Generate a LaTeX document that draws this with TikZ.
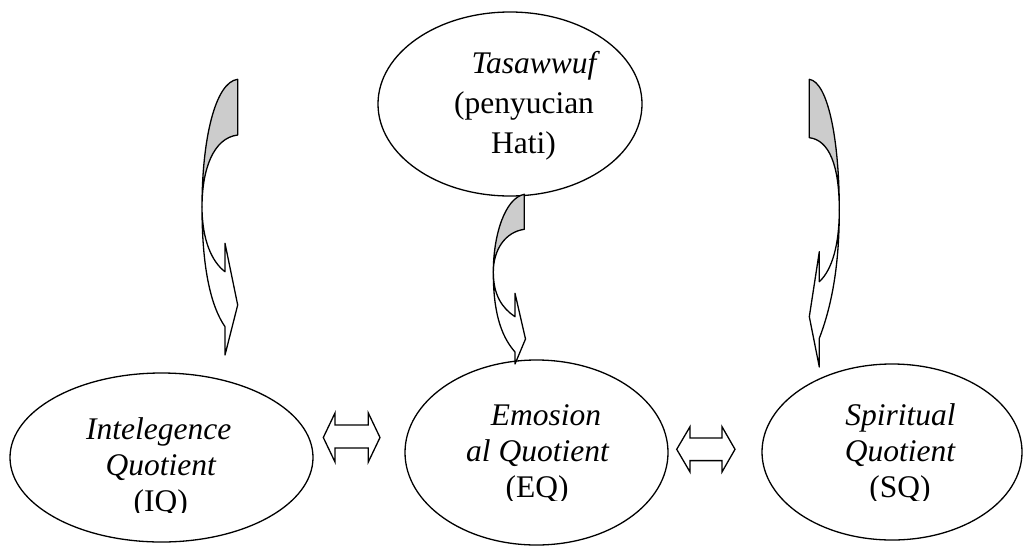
\documentclass[tikz,border=0pt]{standalone}
\usepackage{fontspec}
\setmainfont{Liberation Serif}
\usetikzlibrary{shapes.geometric}
\definecolor{bandgray}{RGB}{204,204,204}
\begin{document}
\begin{tikzpicture}[x=1pt,y=-1pt,
  oval/.style={draw,line width=1.3pt,ellipse,inner sep=0pt,outer sep=0pt},
  lbl/.style={anchor=base,inner sep=0pt,font=\fontsize{31.5}{36}\selectfont},
  ilbl/.style={lbl,font=\fontsize{31.5}{36}\selectfont\itshape},
  blockarrow/.style={draw,line width=1.3pt,fill=white,line join=miter},
  backband/.style={draw,line width=1.3pt,fill=bandgray,line join=round},
  frontband/.style={draw,line width=1.3pt,fill=white,line join=round}]
\useasboundingbox (0,0) rectangle (1035,549);

% the four ovals
\node[oval,minimum width=264pt,minimum height=184pt] (tas) at (510,104) {};
\node[oval,minimum width=303pt,minimum height=169pt] (iq) at (161.5,457.5) {};
\node[oval,minimum width=263pt,minimum height=185pt] (eq) at (536.5,452.5) {};
\node[oval,minimum width=260pt,minimum height=176pt] (sq) at (892,452) {};

% labels
\node[ilbl] (tas1) at (534,73.5) {Tasawwuf};
\node[lbl] (tas2) at (524,113.5) {(penyucian};
\node[lbl] (tas3) at (523.5,153) {Hati)};

\node[ilbl] (iq1) at (158.8,439.3) {Intelegence};
\node[ilbl] (iq2) at (160.8,475) {Quotient};
\begin{scope}
  \clip (100,480) rectangle (220,512.5);
  \node[lbl] (iq3) at (160.8,511) {(IQ)};
\end{scope}

\node[ilbl] (eq1) at (546,425) {Emosion};
\node[ilbl] (eq2) at (537.5,461.7) {al Quotient};
\begin{scope}
  \clip (480,470) rectangle (600,500);
  \node[lbl] (eq3) at (537,497.5) {(EQ)};
\end{scope}

\node[ilbl] (sq1) at (900.5,425) {Spiritual};
\node[ilbl] (sq2) at (900,461.7) {Quotient};
\begin{scope}
  \clip (840,470) rectangle (960,500);
  \node[lbl] (sq3) at (900,497.5) {(SQ)};
\end{scope}

% two-headed block arrows between the ovals
\draw[blockarrow] (323.3,437.5) -- (335,413) -- (335,425) -- (368.3,425) -- (368.3,413)
  -- (380,437.5) -- (368.3,462) -- (368.3,448) -- (335,448) -- (335,462) -- cycle;
\draw[blockarrow] (676.7,449.3) -- (690,426.7) -- (690,438) -- (722,438) -- (722,426.7)
  -- (735,449.3) -- (722,472) -- (722,460.6) -- (690,460.6) -- (690,472) -- cycle;

% curved arrow over the IQ oval
\draw[backband] (237.7,79.3) .. controls (215,82) and (202,140) .. (202,207)
  .. controls (202,170) and (213,138) .. (237.7,135) -- cycle;
\draw[frontband] (202,207) .. controls (202,265) and (210,305) .. (225,326.7)
  -- (225,355) -- (237.7,305) -- (225,243.3) -- (225,271.7)
  .. controls (212,262) and (202,240) .. (202,207) -- cycle;

% curved arrow from Tasawwuf to EQ
\draw[backband] (524.3,194.3) .. controls (505,198) and (493.3,235) .. (493.3,272)
  .. controls (493.3,250) and (505,232) .. (524.3,229.3) -- cycle;
\draw[frontband] (493.3,272) .. controls (493.3,310) and (500,335) .. (515,352)
  -- (515,364) -- (525.5,339) -- (515,293.3) -- (515,316.7)
  .. controls (502,308) and (493.3,295) .. (493.3,272) -- cycle;

% curved arrow over the SQ oval
\draw[backband] (809.3,79.3) .. controls (828,82) and (839.3,140) .. (839.3,210)
  .. controls (839.3,165) and (829,140) .. (809.3,137.7) -- cycle;
\draw[frontband] (839.3,210) .. controls (839.3,265) and (832,305) .. (819.3,338.3)
  -- (819.3,367) -- (809.3,316.7) -- (819.3,251.7) -- (819.3,281.7)
  .. controls (832,270) and (839.3,245) .. (839.3,210) -- cycle;
\end{tikzpicture}
\end{document}
